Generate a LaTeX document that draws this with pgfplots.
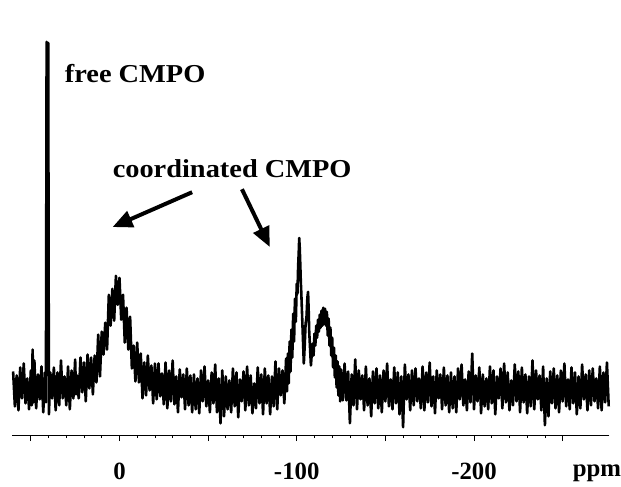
\documentclass[border=0pt]{standalone}
\usepackage{fontspec}
\setmainfont{Liberation Serif}
\usepackage{pgfplots}
\pgfplotsset{compat=1.18}
\usetikzlibrary{arrows.meta}

\begin{document}
\begin{tikzpicture}
\begin{axis}[
  scale only axis, width=600bp, height=397bp,
  x dir=reverse, xmin=-276.4, xmax=60.7,
  ymin=-42, ymax=355,
  axis x line=bottom, axis y line=none,
  axis line style={-, line width=1.4bp},
  xtick={50,0,-50,-100,-150,-200,-250},
  xticklabels={,0,,-100,,-200,},
  minor x tick num=4,
  tick align=outside,
  major tick length=6bp, minor tick length=3bp,
  every tick/.style={black, line width=0.8bp},
  xticklabel style={font=\fontsize{25}{25}\selectfont\bfseries, anchor=base, yshift=-38bp},
  clip=false,
]
% 31P spectrum, intensity in arbitrary units (baseline ~ 0)
\addplot[black, line width=2.6bp, line join=round, mark=none] coordinates {
(60,22) (59,-13) (58,18) (57,-17) (56,26) (55,-5) (54,30) (53,-10) (52,15) (51,-16)
(50,23) (49.5,-12) (49,44) (48.5,-9) (48,33) (47,-15) (46,19) (45,-6) (44,27) (43,-19) (42,21)
(41.5,-9) (41.1,353) (40.6,345) (40.2,352) (39.8,-21)
(39,21) (38,-5) (37,26) (36,-17) (35,21) (34,-12) (33,33) (32,-5) (31,17) (30,-12)
(29,27) (28,-16) (27,23) (26,-5) (25,34) (24.5,-1)
(24,18) (23,-5) (22,36) (21,1) (20,31) (19,-8) (18,39) (17,5) (16,36) (15,-1)
(14,38) (13,11) (12,59) (11,17) (10,62) (9,39) (8,71) (7,44) (6,99) (5,68)
(4,105) (3,73) (2,118) (1,89) (0,116) (-1,74) (-2,99) (-3,51) (-4,86) (-5,44)
(-6,77) (-7,25) (-8,48) (-9,12) (-10,51) (-11,11) (-12,40) (-13,-5) (-14,31) (-15,-2)
(-16,38) (-17,3) (-18,28) (-19,-10) (-20,30) (-21,-6) (-22,30)
(-23,-3) (-24,20) (-25,-11) (-26,31) (-27,-15) (-28,23) (-29,-8) (-30,33) (-31,-11) (-32,17)
(-33,-19) (-34,24) (-35,-4) (-36,19) (-37,-16) (-38,25) (-39,-12) (-40,18) (-41,-19) (-42,19)
(-43,-16) (-44,15) (-45,-20) (-46,23) (-47,-8) (-48,27) (-49,-13) (-50,13) (-51,-19) (-52,21)
(-53,-10) (-54,29) (-55,-19) (-56,15) (-57,-30) (-58,23) (-59,-23) (-60,17) (-61,-16) (-62,13)
(-63,-19) (-64,25) (-65,-13) (-66,21) (-67,-24) (-68,14) (-69,-8) (-70,22) (-71,-17) (-72,27)
(-73,-12) (-74,18) (-75,-20) (-76,10) (-77,-15) (-78,26) (-79,-10) (-80,19) (-81,-21) (-82,25)
(-83,-10) (-84,18) (-85,-21) (-86,17) (-87,-13) (-88,32) (-89,-16) (-90,25) (-91,-2) (-92,23) (-93,-10)
(-94,35) (-94.5,2) (-95,40) (-95.5,10) (-96,52) (-96.5,22) (-97,64) (-97.5,36) (-98,80) (-98.5,52)
(-99,95) (-99.5,72) (-100,110) (-100.4,100) (-100.8,128) (-101.1,140) (-101.4,156) (-101.7,146)
(-102,130) (-102.3,112) (-102.6,100) (-103,80) (-103.5,55) (-104,30) (-104.5,48) (-105,70)
(-105.5,76) (-106,96) (-106.4,102) (-106.8,80) (-107,64) (-107.5,46) (-108,28) (-108.5,40)
(-109,50) (-109.5,38) (-110,60) (-110.5,48) (-111,68) (-111.5,56) (-112,74) (-112.5,62)
(-113,79) (-113.5,66) (-114,83) (-114.5,68) (-115,86) (-115.5,70) (-116,85) (-116.5,68)
(-117,82) (-117.5,58) (-118,75) (-118.5,48) (-119,66) (-119.5,38) (-120,56) (-120.5,26)
(-121,46) (-121.5,16) (-122,38) (-122.5,6) (-123,32) (-123.5,-2) (-124,27) (-124.5,-8) (-125,24)
(-126,-7) (-127,30) (-128,-7) (-129,22) (-130,-30) (-131,19) (-132,-12) (-133,34) (-134,-16) (-135,23)
(-136,-6) (-137,18) (-138,-17) (-139,27) (-140,-12) (-141,15) (-142,-23) (-143,22) (-144,-10) (-145,25)
(-146,-15) (-147,18) (-148,-19) (-149,23) (-150,-8) (-151,30) (-152,-13) (-153,14) (-154,-16) (-155,26)
(-156,-10) (-157,21) (-158,-21) (-159,17) (-160,-34) (-161,29) (-162,-6) (-163,19) (-164,-17) (-165,23)
(-166,-12) (-167,25) (-168,-8) (-169,15) (-170,-15) (-171,27) (-172,-17) (-173,21) (-174,-9) (-175,31)
(-176,-13) (-177,17) (-178,-20) (-179,23) (-180,-5) (-181,19) (-182,-16) (-183,26) (-184,-12) (-185,18)
(-186,-19) (-187,21) (-188,-15) (-189,17) (-190,-19) (-191,25) (-192,-6) (-193,29) (-194,-12) (-195,14)
(-196,-17) (-197,22) (-198,-9) (-199,40) (-200,-16) (-201,18) (-202,-8) (-203,26) (-204,-20) (-205,19)
(-206,-13) (-207,15) (-208,-16) (-209,27) (-210,-10) (-211,23) (-212,-21) (-213,17) (-214,-5) (-215,25)
(-216,-15) (-217,30) (-218,-9) (-219,21) (-220,-17) (-221,13) (-222,-12) (-223,29) (-224,-8) (-225,22)
(-226,-19) (-227,26) (-228,-9) (-229,19) (-230,-20) (-231,17) (-232,-13) (-233,33) (-234,-16) (-235,23)
(-236,-6) (-237,18) (-238,-17) (-239,27) (-240,-32) (-241,15) (-242,-23) (-243,22) (-244,-10) (-245,25)
(-246,-15) (-247,18) (-248,-19) (-249,23) (-250,-8) (-251,30) (-252,-13) (-253,14) (-254,-16) (-255,26)
(-256,-10) (-257,21) (-258,-21) (-259,17) (-260,-15) (-261,29) (-262,-6) (-263,19) (-264,-17) (-265,23)
(-266,-12) (-267,25) (-268,-8) (-269,15) (-270,-15) (-271,27) (-272,-17) (-273,21) (-274,-9) (-275,31) (-276,-13)
};
% labels and arrows
\node[anchor=base west, inner sep=0pt, font=\fontsize{26}{26}\selectfont\bfseries]
  at (axis cs:30.9,312) {\scalebox{1.1}[1]{free CMPO}};
\node[anchor=base west, inner sep=0pt, font=\fontsize{26}{26}\selectfont\bfseries]
  at (axis cs:3.9,217) {\scalebox{1.1}[1]{coordinated CMPO}};
\draw[line width=4bp, -{Triangle[length=20bp,width=17bp]}] (axis cs:-41,202) -- (axis cs:3.9,167);
\draw[line width=4bp, -{Triangle[length=20bp,width=17bp]}] (axis cs:-69.1,205) -- (axis cs:-84.8,147);
\node[anchor=base west, inner sep=0pt, font=\fontsize{25}{25}\selectfont\bfseries]
  at (axis cs:-255.6,-83) {ppm};
% page frame matching the reference margins
\path (axis cs:67.4,395) rectangle (axis cs:-281.5,-93);
\end{axis}
\end{tikzpicture}
\end{document}
